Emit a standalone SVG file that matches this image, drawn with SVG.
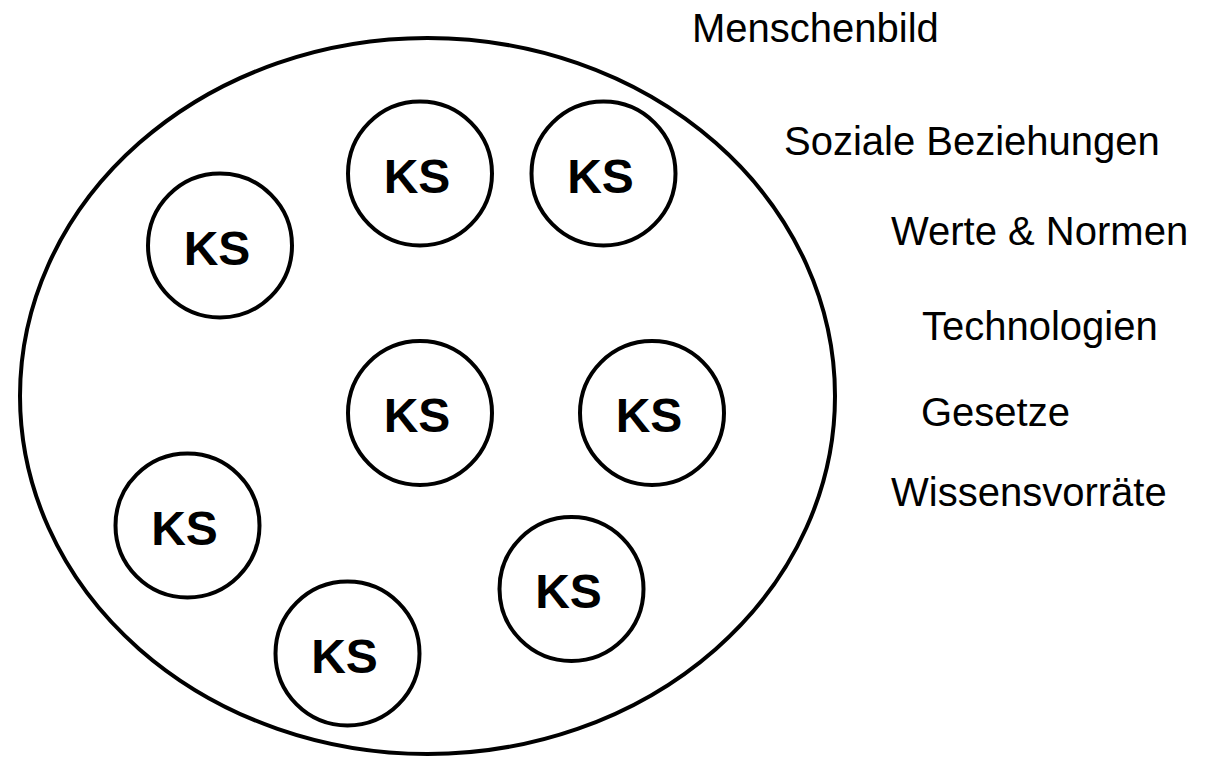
<svg xmlns="http://www.w3.org/2000/svg" width="1232" height="757" viewBox="0 0 1232 757">
<style>
.outer{fill:none;stroke:#000;stroke-width:4}
.ks circle{fill:#fff;stroke:#000;stroke-width:4}
.ks text{font-family:"Liberation Sans",Arial,sans-serif;font-weight:bold;font-size:48px;text-anchor:middle;fill:#000}
.lbl{font-family:"Liberation Sans",Arial,sans-serif;font-size:40px;fill:#000}
</style>
<rect width="1232" height="757" fill="#fff"/>
<g id="society">
<ellipse class="outer" cx="427.5" cy="396" rx="407.5" ry="358"/>
</g>
<g id="ks1" class="ks"><circle cx="220" cy="245.5" r="72"/><text x="217" y="264.5">KS</text></g>
<g id="ks2" class="ks"><circle cx="420" cy="173.5" r="72"/><text x="417" y="192.5">KS</text></g>
<g id="ks3" class="ks"><circle cx="603.5" cy="173.5" r="72"/><text x="600.5" y="192.5">KS</text></g>
<g id="ks4" class="ks"><circle cx="420" cy="413" r="72"/><text x="417" y="432">KS</text></g>
<g id="ks5" class="ks"><circle cx="652" cy="413" r="72"/><text x="649" y="432">KS</text></g>
<g id="ks6" class="ks"><circle cx="187.5" cy="525.5" r="72"/><text x="184.5" y="544.5">KS</text></g>
<g id="ks7" class="ks"><circle cx="571.5" cy="589" r="72"/><text x="568.5" y="608">KS</text></g>
<g id="ks8" class="ks"><circle cx="347.5" cy="653.5" r="72"/><text x="344.5" y="672.5">KS</text></g>
<g id="connectors"></g>
<g id="labels">
<text id="l1" class="lbl" x="692" y="42">Menschenbild</text>
<text id="l2" class="lbl" x="784" y="155">Soziale Beziehungen</text>
<text id="l3" class="lbl" x="891" y="245">Werte &amp; Normen</text>
<text id="l4" class="lbl" x="922" y="340">Technologien</text>
<text id="l5" class="lbl" x="921" y="426">Gesetze</text>
<text id="l6" class="lbl" x="891" y="506">Wissensvorräte</text>
</g>
</svg>
